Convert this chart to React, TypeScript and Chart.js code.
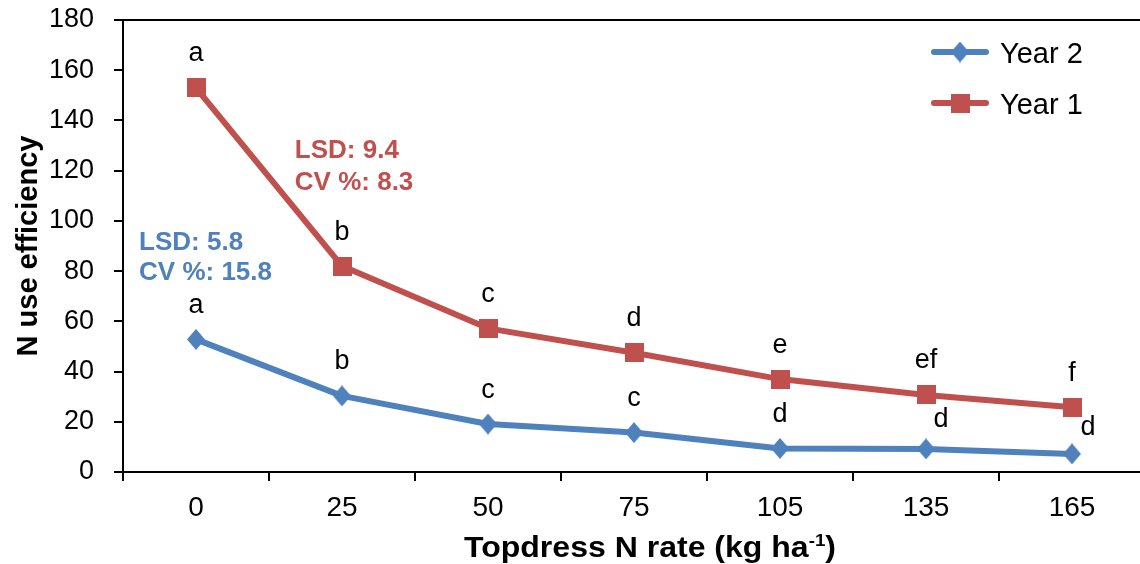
import React, { useEffect, useRef } from 'react';
import { Chart, registerables } from 'chart.js';

Chart.register(...registerables);

const FONT = "'Liberation Sans', Arial, Helvetica, sans-serif";
const BLUE = '#4F81BD';
const RED = '#C0504D';

// ---- data ----
const categories = ['0', '25', '50', '75', '105', '135', '165'];
const year2Values = [52.8, 30.3, 19.1, 15.7, 9.4, 9.2, 7.2];
const year1Values = [153.0, 82.0, 57.2, 47.5, 37.0, 30.7, 25.8];
const year2Letters = ['a', 'b', 'c', 'c', 'd', 'd', 'd'];
const year1Letters = ['a', 'b', 'c', 'd', 'e', 'ef', 'f'];
const year2Stats = ['LSD: 5.8', 'CV %: 15.8'];
const year1Stats = ['LSD: 9.4', 'CV %: 8.3'];
const yMin = 0;
const yMax = 180;
const yStep = 20;
const yTitle = 'N use efficiency';
const xTitleMain = 'Topdress N rate (kg ha';
const xTitleSup = '-1';
const xTitleEnd = ')';

// ---- marker images ----
function makeDiamond(w: number, h: number, color: string) {
  const c = document.createElement('canvas');
  c.width = w;
  c.height = h;
  const g = c.getContext('2d')!;
  g.fillStyle = color;
  g.beginPath();
  g.moveTo(w / 2, 0);
  g.lineTo(w, h / 2);
  g.lineTo(w / 2, h);
  g.lineTo(0, h / 2);
  g.closePath();
  g.fill();
  return c;
}
function makeSquare(s: number, color: string) {
  const c = document.createElement('canvas');
  c.width = s;
  c.height = s;
  const g = c.getContext('2d')!;
  g.fillStyle = color;
  g.fillRect(0, 0, s, s);
  return c;
}

export default function App() {
  const ref = useRef<HTMLCanvasElement | null>(null);

  useEffect(() => {
    const canvas = ref.current;
    if (!canvas) return;
    const diamond = makeDiamond(18, 21, BLUE);
    const square = makeSquare(19, RED);

    const letterSets = [year2Letters, year1Letters];
    // label nudges (pixels): dx to the right, dy = baseline distance above the point
    const nudges: Record<number, Record<number, { dx: number; dy: number }>> = {
      0: { 5: { dx: 15, dy: 22 }, 6: { dx: 16, dy: 19 } },
    };

    const decor = {
      id: 'decor',
      afterDraw(chart: any) {
        const { ctx, chartArea, scales } = chart;
        const xs = scales.x;
        const ys = scales.y;
        ctx.save();
        // top frame line
        ctx.strokeStyle = '#000';
        ctx.lineWidth = 2;
        ctx.beginPath();
        ctx.moveTo(chartArea.left - 1, chartArea.top);
        ctx.lineTo(chartArea.right + 1, chartArea.top);
        ctx.stroke();

        // significance letters
        ctx.fillStyle = '#000';
        ctx.font = `27px ${FONT}`;
        ctx.textAlign = 'center';
        ctx.textBaseline = 'alphabetic';
        letterSets.forEach((letters, di) => {
          const meta = chart.getDatasetMeta(di);
          meta.data.forEach((pt: any, i: number) => {
            const n = (nudges[di] && nudges[di][i]) || { dx: 0, dy: 26.5 };
            ctx.fillText(letters[i], pt.x + n.dx, pt.y - n.dy);
          });
        });

        // LSD / CV annotations
        ctx.font = `bold 26px ${FONT}`;
        ctx.textAlign = 'left';
        ctx.fillStyle = RED;
        year1Stats.forEach((t, i) => {
          ctx.fillText(t, xs.getPixelForValue(0.677), ys.getPixelForValue(124.9) + i * 31.7);
        });
        ctx.fillStyle = BLUE;
        year2Stats.forEach((t, i) => {
          ctx.fillText(t, xs.getPixelForValue(-0.39), ys.getPixelForValue(88.3) + i * 30);
        });

        // legend
        ctx.font = `29px ${FONT}`;
        ctx.textAlign = 'left';
        chart.data.datasets.forEach((ds: any, i: number) => {
          const ly = 52 + i * 51;
          ctx.strokeStyle = ds.borderColor;
          ctx.lineWidth = 6;
          ctx.lineCap = 'round';
          ctx.beginPath();
          ctx.moveTo(934, ly);
          ctx.lineTo(986, ly);
          ctx.stroke();
          const img = ds.pointStyle;
          ctx.drawImage(img, 960 - img.width / 2, ly - img.height / 2);
          ctx.fillStyle = '#000';
          ctx.fillText(ds.label, 1000, ly + 10.5);
        });

        // y title
        ctx.save();
        ctx.translate(37, (chartArea.top + chartArea.bottom) / 2);
        ctx.rotate(-Math.PI / 2);
        ctx.font = `bold 29px ${FONT}`;
        ctx.textAlign = 'center';
        ctx.textBaseline = 'alphabetic';
        ctx.fillStyle = '#000';
        ctx.fillText(yTitle, 0, 0);
        ctx.restore();

        // x title with superscript
        ctx.save();
        ctx.fillStyle = '#000';
        ctx.textBaseline = 'alphabetic';
        ctx.textAlign = 'left';
        const mainFont = `bold 29px ${FONT}`;
        const supFont = `bold 17px ${FONT}`;
        ctx.font = mainFont;
        const w1 = ctx.measureText(xTitleMain).width;
        const w3 = ctx.measureText(xTitleEnd).width;
        ctx.font = supFont;
        const w2 = ctx.measureText(xTitleSup).width;
        const total = w1 + w2 + w3;
        const targetWidth = 372;
        const sx = targetWidth / total;
        const base = 557;
        ctx.translate(650 - targetWidth / 2, base);
        ctx.scale(sx, 1);
        let tx = 0;
        ctx.font = mainFont;
        ctx.fillText(xTitleMain, tx, 0);
        tx += w1;
        ctx.font = supFont;
        ctx.fillText(xTitleSup, tx, -11);
        tx += w2;
        ctx.font = mainFont;
        ctx.fillText(xTitleEnd, tx, 0);
        ctx.restore();
        ctx.restore();
      },
    };

    const chart = new Chart(canvas, {
      type: 'line',
      data: {
        labels: categories,
        datasets: [
          {
            label: 'Year 2',
            data: year2Values,
            borderColor: BLUE,
            backgroundColor: BLUE,
            borderWidth: 6,
            pointStyle: diamond as any,
            pointRadius: 9,
            pointHoverRadius: 9,
            tension: 0,
            fill: false,
            borderJoinStyle: 'round',
          },
          {
            label: 'Year 1',
            data: year1Values,
            borderColor: RED,
            backgroundColor: RED,
            borderWidth: 6,
            pointStyle: square as any,
            pointRadius: 9,
            pointHoverRadius: 9,
            tension: 0,
            fill: false,
            borderJoinStyle: 'round',
          },
        ],
      },
      options: {
        responsive: false,
        maintainAspectRatio: false,
        animation: false,
        devicePixelRatio: 1,
        layout: { padding: { top: 20, right: 12, left: 0, bottom: 0 } },
        plugins: {
          legend: { display: false },
          title: { display: false },
          tooltip: { enabled: false },
        },
        scales: {
          x: {
            type: 'category',
            offset: true,
            grid: {
              offset: true,
              drawOnChartArea: false,
              drawTicks: true,
              tickLength: 9,
              color: '#000',
              lineWidth: 2,
            },
            border: { display: true, color: '#000', width: 2 },
            ticks: {
              color: '#000',
              font: { family: FONT, size: 28 },
              padding: 10,
              maxRotation: 0,
              autoSkip: false,
            },
            afterFit: (s: any) => {
              s.height = 92;
              s.paddingLeft = 0;
              s.paddingRight = 0;
            },
          },
          y: {
            min: yMin,
            max: yMax,
            grid: {
              drawOnChartArea: false,
              drawTicks: true,
              tickLength: 9,
              color: '#000',
              lineWidth: 2,
            },
            border: { display: true, color: '#000', width: 2 },
            ticks: {
              stepSize: yStep,
              color: '#000',
              font: { family: FONT, size: 27 },
              padding: 20,
            },
            afterFit: (s: any) => {
              s.width = 123;
              s.paddingTop = 0;
              s.paddingBottom = 0;
            },
          },
        },
      },
      plugins: [decor],
    });

    return () => chart.destroy();
  }, []);

  return (
    <div
      style={{
        position: 'fixed',
        left: 0,
        top: 0,
        width: 1140,
        height: 564,
        overflow: 'hidden',
        background: '#fff',
      }}
    >
      <canvas ref={ref} width={1160} height={564} style={{ display: 'block', width: 1160, height: 564 }} />
    </div>
  );
}
